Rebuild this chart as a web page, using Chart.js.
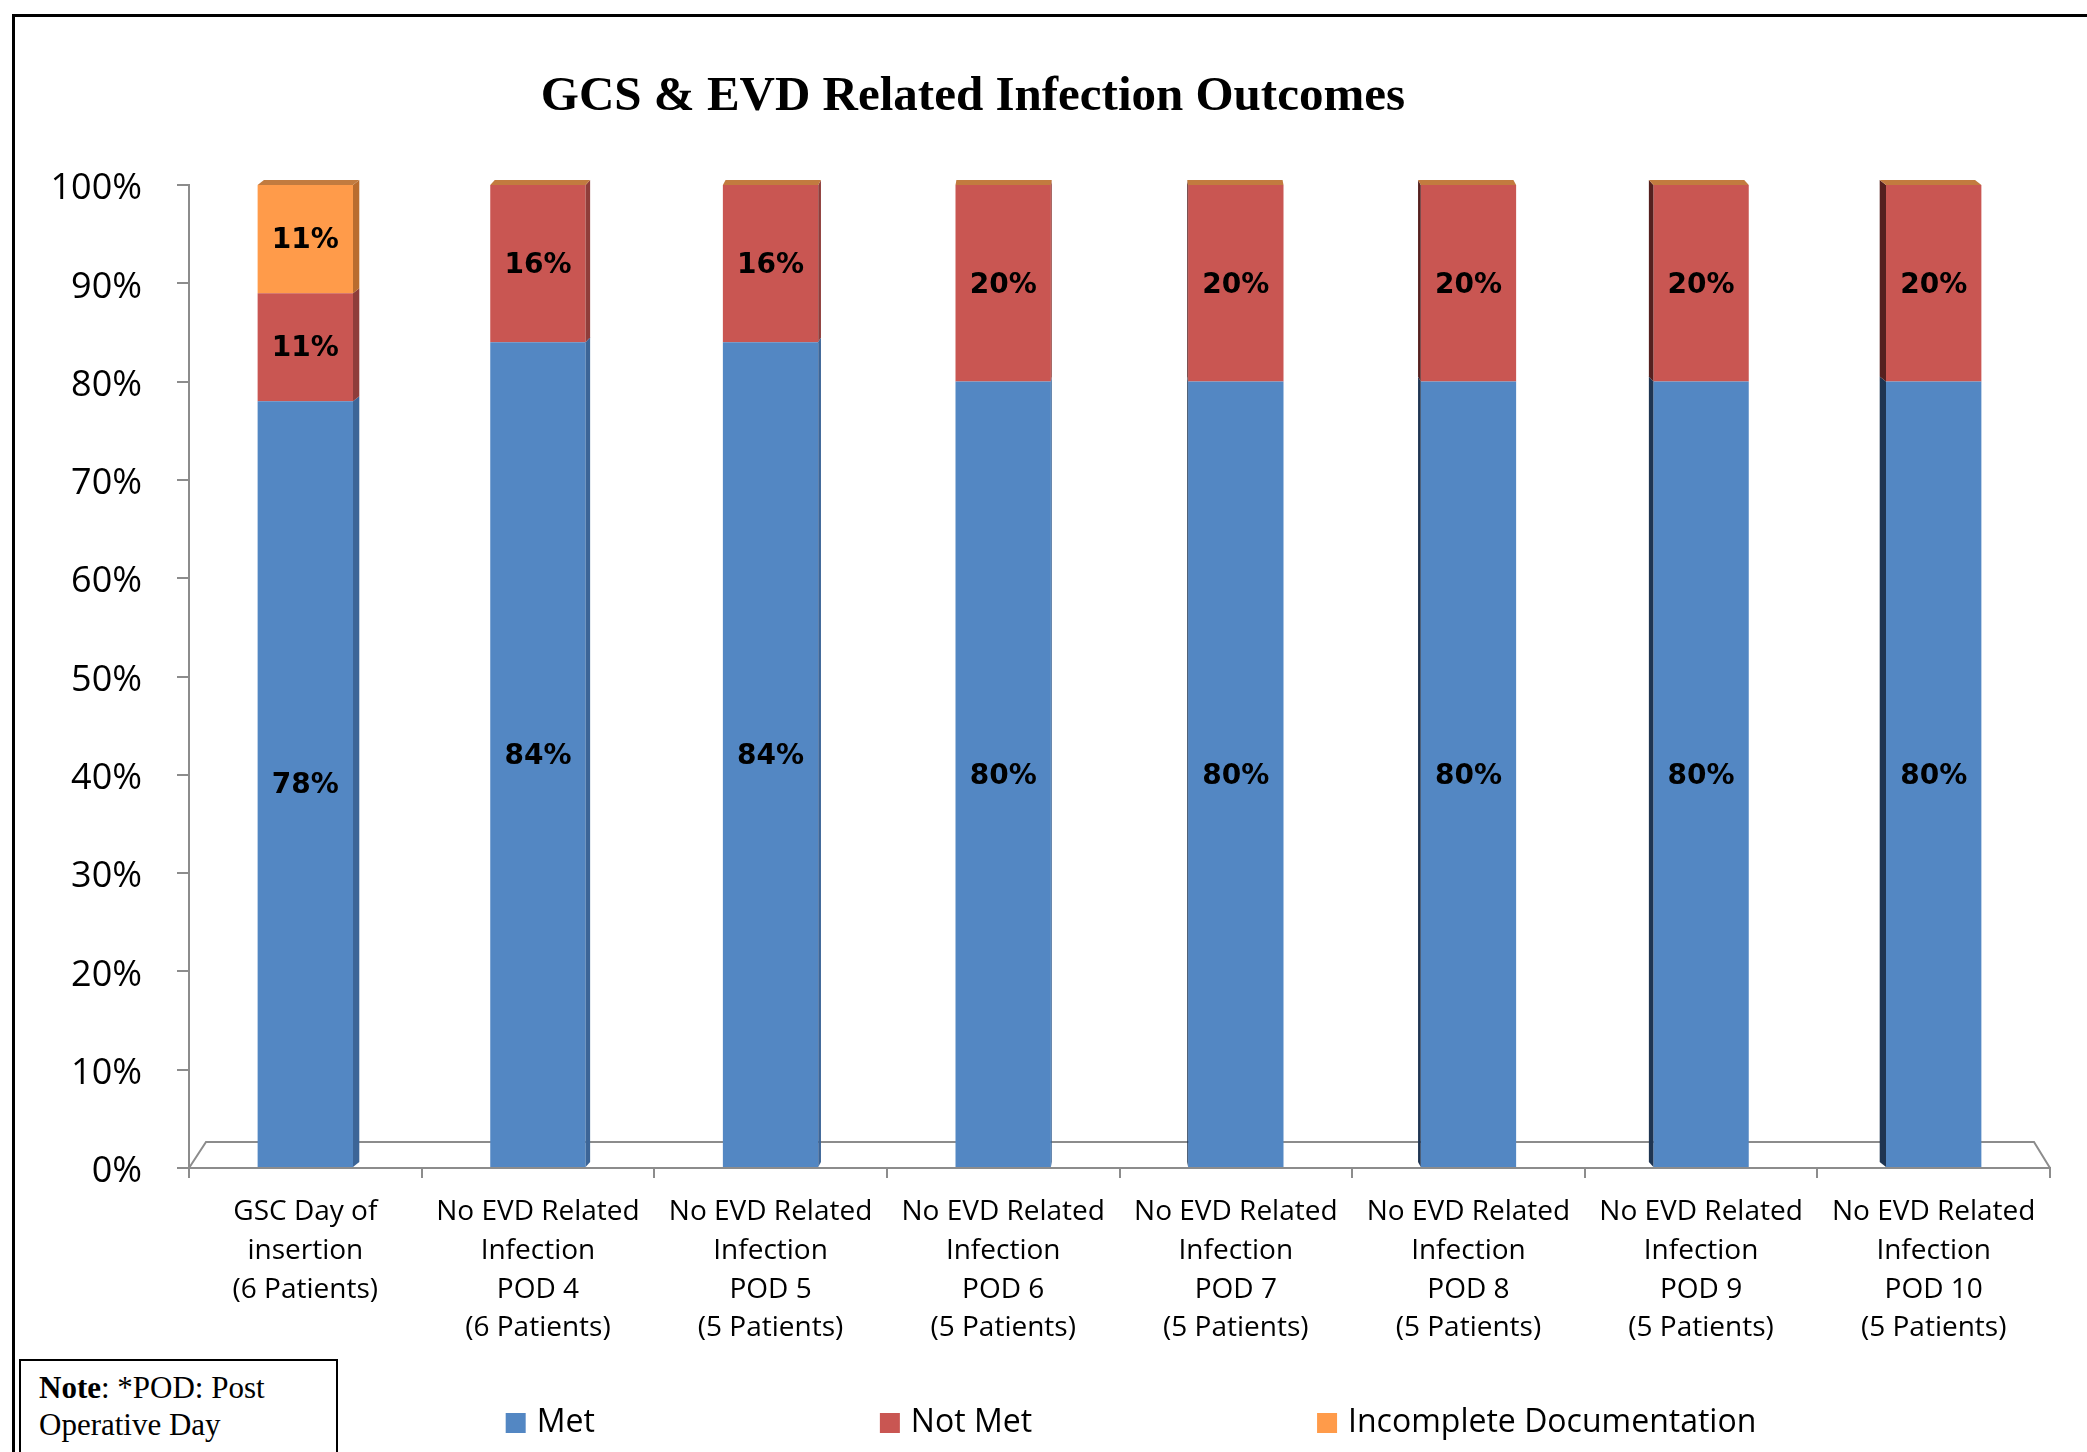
<!DOCTYPE html>
<html>
<head>
<meta charset="utf-8">
<script src="https://cdn.jsdelivr.net/npm/chart.js@4.4.0/dist/chart.umd.min.js"></script>
<style>
html,body{margin:0;padding:0;background:#fff;}
#wrap{position:relative;width:2087px;height:1452px;overflow:hidden;background:#fff;}
#c{position:absolute;left:0;top:0;}
#frame{position:absolute;left:12px;top:14px;width:2200px;height:1600px;border-top:3px solid #000;border-left:3px solid #000;pointer-events:none;}
#note{position:absolute;left:19px;top:1359px;width:319px;height:130px;border:2px solid #000;background:#fff;
  font-family:'Liberation Serif','Times New Roman',serif;font-size:31px;line-height:37px;padding:8px 0 0 18px;box-sizing:border-box;color:#000;}
</style>
</head>
<body>
<div id="wrap">
  <canvas id="c" width="2087" height="1452"></canvas>
  <div id="frame"></div>
  <div id="note"><b>Note</b>: *POD: Post<br>Operative Day</div>
</div>
<script>
// ---- data ----
const chartTitle = 'GCS & EVD Related Infection Outcomes';
const categories = [
  ['GSC Day of', 'insertion', '(6 Patients)'],
  ['No EVD Related', 'Infection', 'POD 4', '(6 Patients)'],
  ['No EVD Related', 'Infection', 'POD 5', '(5 Patients)'],
  ['No EVD Related', 'Infection', 'POD 6', '(5 Patients)'],
  ['No EVD Related', 'Infection', 'POD 7', '(5 Patients)'],
  ['No EVD Related', 'Infection', 'POD 8', '(5 Patients)'],
  ['No EVD Related', 'Infection', 'POD 9', '(5 Patients)'],
  ['No EVD Related', 'Infection', 'POD 10', '(5 Patients)']
];
const seriesNames = ['Met', 'Not Met', 'Incomplete Documentation'];
const metValues = [78, 84, 84, 80, 80, 80, 80, 80];
const notMetValues = [11, 16, 16, 20, 20, 20, 20, 20];
const incompleteValues = [11, 0, 0, 0, 0, 0, 0, 0];
const yTicks = [0, 10, 20, 30, 40, 50, 60, 70, 80, 90, 100];

// ---- styles ----
const colors = ['#5387C3', '#C95652', '#FF9B4A'];
const sideRight = ['#3C6597', '#8F3D3A', '#B96C2E'];
const sideLeft = ['#1F3552', '#55201F', '#7A4317'];
const topFace = '#C27B3F';
const LEG_W = 227, LEG_PAD = 73;

function makeSwatch(color) {
  const cv = document.createElement('canvas');
  cv.width = LEG_W + 40; cv.height = 20;
  const g = cv.getContext('2d');
  g.fillStyle = color;
  g.fillRect(LEG_W + 5, 0, 20, 20);
  return cv;
}

const deco = {
  id: 'deco',
  afterLayout(chart) {
    // let the multi-line category labels draw past the compact axis box
    chart.scales.x.bottom = chart.height;
  },
  beforeDatasetsDraw(chart) {
    const {ctx, chartArea: a} = chart;
    ctx.save();
    ctx.strokeStyle = '#8C8C8C';
    ctx.lineWidth = 2;
    ctx.beginPath();
    ctx.moveTo(a.left, a.bottom);
    ctx.lineTo(a.left + 17, a.bottom - 26);
    ctx.lineTo(a.right - 16, a.bottom - 26);
    ctx.lineTo(a.right, a.bottom);
    ctx.stroke();
    ctx.restore();
  },
  afterDatasetsDraw(chart) {
    const ctx = chart.ctx;
    const n = chart.data.labels.length;
    const h = 5;
    ctx.save();
    for (let i = 0; i < n; i++) {
      const sw = Math.abs(i - (n - 1) / 2) * 1.8;
      const right = i < (n - 1) / 2;
      let topY = null, xl = 0, xr = 0;
      chart.data.datasets.forEach((ds, d) => {
        const el = chart.getDatasetMeta(d).data[i];
        const p = el.getProps(['x', 'y', 'base', 'width'], true);
        xl = p.x - p.width / 2; xr = p.x + p.width / 2;
        if (topY === null || p.y < topY) topY = p.y;
        if (!ds.data[i]) return;
        ctx.fillStyle = right ? sideRight[d] : sideLeft[d];
        ctx.beginPath();
        if (right) {
          ctx.moveTo(xr, p.y); ctx.lineTo(xr + sw, p.y - h); ctx.lineTo(xr + sw, p.base - h); ctx.lineTo(xr, p.base);
        } else {
          ctx.moveTo(xl, p.y); ctx.lineTo(xl - sw, p.y - h); ctx.lineTo(xl - sw, p.base - h); ctx.lineTo(xl, p.base);
        }
        ctx.closePath(); ctx.fill();
      });
      const dx = right ? sw : -sw;
      ctx.fillStyle = topFace;
      ctx.beginPath();
      ctx.moveTo(xl, topY); ctx.lineTo(xl + dx, topY - h); ctx.lineTo(xr + dx, topY - h); ctx.lineTo(xr, topY);
      ctx.closePath(); ctx.fill();
    }
    // value labels
    ctx.font = 'bold 28px "DejaVu Sans", Verdana, sans-serif';
    ctx.fillStyle = '#000';
    ctx.textAlign = 'center';
    ctx.textBaseline = 'middle';
    chart.data.datasets.forEach((ds, d) => {
      chart.getDatasetMeta(d).data.forEach((el, i) => {
        const v = ds.data[i];
        if (!v) return;
        const p = el.getProps(['x', 'y', 'base'], true);
        ctx.fillText(v + '%', p.x, (p.y + p.base) / 2 + 2);
      });
    });
    ctx.restore();
  },
  afterDraw(chart) {
    const ctx = chart.ctx;
    ctx.save();
    ctx.font = 'bold 49px "Liberation Serif", "Times New Roman", serif';
    ctx.fillStyle = '#000';
    ctx.textAlign = 'center';
    ctx.textBaseline = 'middle';
    ctx.fillText(chartTitle, chart.width * 0.4662, 97);
    ctx.restore();
  }
};

const valueSets = [metValues, notMetValues, incompleteValues];

new Chart(document.getElementById('c'), {
  type: 'bar',
  data: {
    labels: categories,
    datasets: seriesNames.map((name, k) => ({
      label: name,
      data: valueSets[k],
      backgroundColor: colors[k],
      borderWidth: 0,
      barPercentage: 0.41,
      categoryPercentage: 1.0
    }))
  },
  options: {
    responsive: false,
    animation: false,
    devicePixelRatio: 1,
    layout: {padding: {top: 185, left: 0, right: 37, bottom: 3}},
    plugins: {
      title: {display: false},
      tooltip: {enabled: false},
      legend: {
        position: 'bottom',
        align: 'center',
        labels: {
          usePointStyle: true,
          pointStyleWidth: LEG_W,
          padding: LEG_PAD,
          color: '#000',
          font: {family: 'Open Sans', size: 32},
          generateLabels(chart) {
            const items = Chart.defaults.plugins.legend.labels.generateLabels(chart);
            items.forEach(it => { it.pointStyle = makeSwatch(colors[it.datasetIndex]); });
            return items;
          }
        }
      }
    },
    scales: {
      x: {
        stacked: true,
        grid: {display: true, drawOnChartArea: false, drawTicks: true, tickLength: 10, color: '#8C8C8C', lineWidth: 2, offset: true},
        border: {display: true, color: '#8C8C8C', width: 2},
        ticks: {color: '#000', font: {family: 'Open Sans', size: 28, lineHeight: 1.38}, padding: 15, maxRotation: 0, autoSkip: false},
        afterFit(s) { s.height = 166; }
      },
      y: {
        stacked: true,
        min: 0, max: 100,
        grid: {display: true, drawOnChartArea: false, drawTicks: true, tickLength: 12, color: '#8C8C8C', lineWidth: 2},
        border: {display: true, color: '#8C8C8C', width: 2},
        ticks: {color: '#000', font: {family: 'Open Sans', size: 36}, padding: 35, labelOffset: 4, callback: v => v + '%'},
        afterBuildTicks(s) { s.ticks = yTicks.map(v => ({value: v})); },
        afterFit(s) { s.width = 189; }
      }
    }
  },
  plugins: [deco]
});
</script>
</body>
</html>
